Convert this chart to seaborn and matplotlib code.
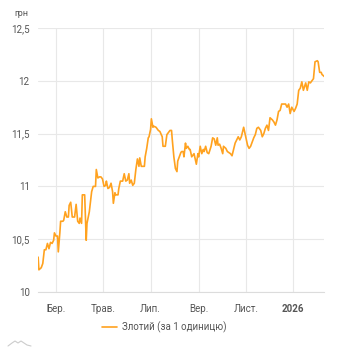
import numpy as np
import pandas as pd
import matplotlib
matplotlib.use("Agg")
import matplotlib.pyplot as plt
from matplotlib.lines import Line2D
import seaborn as sns

dates = [
    "2025-02-06", "2025-02-07", "2025-02-10", "2025-02-12", "2025-02-14", "2025-02-16",
    "2025-02-18", "2025-02-20", "2025-02-22", "2025-02-24", "2025-02-26", "2025-02-27",
    "2025-03-01", "2025-03-03", "2025-03-04", "2025-03-06", "2025-03-07", "2025-03-10",
    "2025-03-11", "2025-03-13", "2025-03-15", "2025-03-17", "2025-03-18", "2025-03-20",
    "2025-03-22", "2025-03-23", "2025-03-25", "2025-03-27", "2025-03-29", "2025-03-31",
    "2025-04-01", "2025-04-03", "2025-04-04", "2025-04-07", "2025-04-09", "2025-04-10",
    "2025-04-13", "2025-04-15", "2025-04-16", "2025-04-18", "2025-04-21", "2025-04-22",
    "2025-04-24", "2025-04-26", "2025-04-28", "2025-04-30", "2025-05-02", "2025-05-04",
    "2025-05-05", "2025-05-07", "2025-05-09", "2025-05-11", "2025-05-13", "2025-05-14",
    "2025-05-16", "2025-05-17", "2025-05-20", "2025-05-21", "2025-05-23", "2025-05-26",
    "2025-05-28", "2025-05-30", "2025-06-01", "2025-06-03", "2025-06-04", "2025-06-06",
    "2025-06-08", "2025-06-10", "2025-06-12", "2025-06-14", "2025-06-16", "2025-06-17",
    "2025-06-19", "2025-06-21", "2025-06-23", "2025-06-24", "2025-06-26", "2025-06-28",
    "2025-06-29", "2025-07-01", "2025-07-02", "2025-07-04", "2025-07-05", "2025-07-08",
    "2025-07-11", "2025-07-13", "2025-07-16", "2025-07-17", "2025-07-20", "2025-07-22",
    "2025-07-23", "2025-07-26", "2025-07-28", "2025-07-29", "2025-07-31", "2025-08-02",
    "2025-08-04", "2025-08-05", "2025-08-07", "2025-08-09", "2025-08-10", "2025-08-12",
    "2025-08-13", "2025-08-15", "2025-08-16", "2025-08-18", "2025-08-20",
    "2025-08-21", "2025-08-23", "2025-08-26", "2025-08-28", "2025-08-29", "2025-08-31",
    "2025-09-01", "2025-09-03", "2025-09-05", "2025-09-07", "2025-09-08", "2025-09-10",
    "2025-09-12", "2025-09-14", "2025-09-17", "2025-09-19", "2025-09-21", "2025-09-23",
    "2025-09-25", "2025-09-26", "2025-09-28", "2025-09-30", "2025-10-02", "2025-10-03",
    "2025-10-06", "2025-10-08", "2025-10-10", "2025-10-12", "2025-10-14", "2025-10-16",
    "2025-10-18", "2025-10-20", "2025-10-22", "2025-10-24", "2025-10-26", "2025-10-27",
    "2025-10-29", "2025-10-31", "2025-11-02", "2025-11-03", "2025-11-05", "2025-11-07",
    "2025-11-09", "2025-11-11", "2025-11-13", "2025-11-15", "2025-11-17", "2025-11-20",
    "2025-11-22", "2025-11-24", "2025-11-26", "2025-11-28", "2025-11-30", "2025-12-02",
    "2025-12-05", "2025-12-07", "2025-12-09", "2025-12-11", "2025-12-13", "2025-12-15",
    "2025-12-17", "2025-12-20", "2025-12-22", "2025-12-24", "2025-12-26", "2025-12-28",
    "2025-12-30", "2026-01-02", "2026-01-04", "2026-01-06", "2026-01-08", "2026-01-10",
    "2026-01-12", "2026-01-14", "2026-01-17", "2026-01-19", "2026-01-21", "2026-01-23",
    "2026-01-25", "2026-01-27", "2026-01-29", "2026-02-01", "2026-02-02", "2026-02-04",
    "2026-02-06", "2026-02-07", "2026-02-10",
]

pln_uah = [
    10.33, 10.21, 10.23, 10.27, 10.40, 10.40,
    10.46, 10.41, 10.47, 10.46, 10.49, 10.56,
    10.53, 10.53, 10.38, 10.56, 10.67, 10.67,
    10.68, 10.76, 10.71, 10.71, 10.82, 10.85,
    10.71, 10.71, 10.71, 10.83, 10.67, 10.65,
    10.70, 10.65, 10.92, 10.92, 10.49, 10.65,
    10.76, 10.89, 10.95, 11.00, 11.00, 11.16,
    11.08, 11.09, 11.09, 11.07, 11.00, 11.01,
    11.05, 10.98, 10.99, 11.03, 10.95, 10.84,
    10.94, 10.92, 10.92, 10.98, 11.05, 11.05,
    11.12, 11.05, 11.06, 11.12, 11.03, 11.06,
    11.01, 11.03, 11.16, 11.26, 11.19, 11.27,
    11.19, 11.19, 11.19, 11.28, 11.36, 11.46,
    11.47, 11.54, 11.64, 11.56, 11.57, 11.56,
    11.53, 11.52, 11.47, 11.38, 11.38, 11.49,
    11.50, 11.53, 11.53, 11.44, 11.28, 11.17,
    11.14, 11.24, 11.28, 11.32, 11.33, 11.33,
    11.28, 11.41, 11.36, 11.38, 11.35,
    11.35, 11.28, 11.31, 11.24, 11.21, 11.31,
    11.28, 11.38, 11.31, 11.35, 11.33, 11.38,
    11.32, 11.31, 11.38, 11.46, 11.45, 11.39,
    11.46, 11.39, 11.40, 11.36, 11.31, 11.38,
    11.36, 11.33, 11.32, 11.31, 11.29, 11.35,
    11.41, 11.44, 11.47, 11.44, 11.47, 11.50,
    11.56, 11.49, 11.42, 11.39, 11.36, 11.38,
    11.42, 11.46, 11.49, 11.55, 11.56, 11.53,
    11.47, 11.50, 11.55, 11.58, 11.53, 11.65,
    11.63, 11.61, 11.58, 11.63, 11.71, 11.72,
    11.78, 11.78, 11.78, 11.75, 11.78, 11.69,
    11.75, 11.71, 11.74, 11.78, 11.91, 11.93,
    11.99, 11.91, 11.98, 11.91, 11.99, 11.98,
    12.00, 12.02, 12.18, 12.19, 12.18, 12.08,
    12.08, 12.06, 12.04,
]

y_ticks = [10, 10.5, 11, 11.5, 12, 12.5]
y_tick_labels = ["10", "10,5", "11", "11,5", "12", "12,5"]
x_ticks = ["2025-03-01", "2025-05-01", "2025-07-01", "2025-09-01", "2025-11-01", "2026-01-01"]
x_tick_labels = ["Бер.", "Трав.", "Лип.", "Вер.", "Лист.", "2026"]
series_name = "Злотий (за 1 одиницю)"
unit_label = "грн"

df = pd.DataFrame({"date": pd.to_datetime(dates), "value": pln_uah, "series": series_name})

sns.set_theme(style="white")
plt.rcParams["font.family"] = ["Roboto", "DejaVu Sans"]

fig = plt.figure(figsize=(3.42, 3.50), dpi=100)
ax = fig.add_axes([38 / 342, 1 - 292 / 350, (324 - 38) / 342, (292 - 28) / 350])

line_color = "#FFA21F"
sns.lineplot(data=df, x="date", y="value", hue="series", palette=[line_color],
             ax=ax, linewidth=1.2, legend=False)

ax.set_xlim(pd.Timestamp("2025-02-05 20:00"), pd.Timestamp("2026-02-09 14:00"))
ax.set_ylim(10, 12.5)

ax.set_yticks(y_ticks)
ax.set_yticklabels(y_tick_labels)
ax.set_xticks(pd.to_datetime(x_ticks))
ax.set_xticklabels(x_tick_labels)
for lbl in ax.get_xticklabels():
    if lbl.get_text() == "2026":
        lbl.set_fontweight("bold")
        lbl.set_color("#333333")

ax.tick_params(axis="both", length=0, labelsize=7, colors="#555555")
ax.tick_params(axis="y", pad=6)
ax.tick_params(axis="x", pad=9)

ax.grid(True, color="#e8e8e8", linewidth=0.8)
ax.set_axisbelow(True)
for side in ["top", "right", "left"]:
    ax.spines[side].set_visible(False)
ax.spines["bottom"].set_color("#dcdcdc")
ax.spines["bottom"].set_linewidth(0.8)
ax.set_xlabel("")
ax.set_ylabel("")

fig.text(14 / 342, 1 - 14 / 350, unit_label, fontsize=6.5, color="#555555", va="center", ha="left")

handle = Line2D([], [], color=line_color, linewidth=1.2)
fig.legend([handle], [series_name], loc="center", bbox_to_anchor=(0.48, 1 - 327.5 / 350),
           frameon=False, fontsize=7, handlelength=1.6, handletextpad=0.5,
           labelcolor="#555555")

# small logo mark bottom-left
logo_x = np.array([8, 12, 15, 18, 21, 24, 27, 31]) / 342
logo_y = 1 - np.array([346, 343, 341, 343, 341, 343, 345, 346]) / 350
fig.add_artist(Line2D(logo_x, logo_y, color="#cccccc", linewidth=0.8))

fig.savefig("out.png", dpi=100)
